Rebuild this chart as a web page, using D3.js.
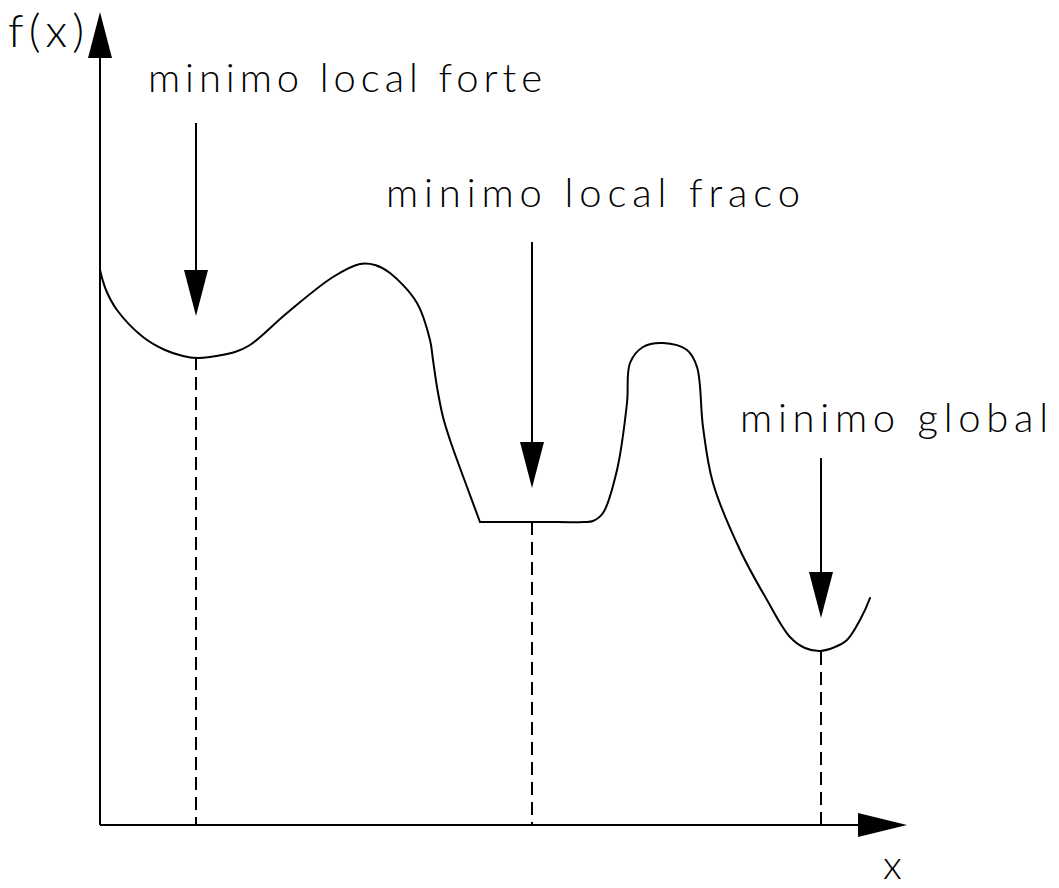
<!DOCTYPE html>
<html>
<head>
<meta charset="utf-8">
<script src="https://cdn.jsdelivr.net/npm/d3@7"></script>
<style>
  html, body { margin: 0; padding: 0; background: #fff; }
  svg { display: block; }
  text { font-family: "Lato", "Open Sans", "DejaVu Sans", sans-serif; font-weight: 300; fill: #000; }
</style>
</head>
<body>
<svg id="chart" width="1059" height="888"></svg>
<script>
// ---- data (in plot units: x 0..805, f(x) 0..800) ----
// left branch of f(x), ending at the sharp corner of the plateau
const curveAX = [0, 6, 17, 43, 65, 83, 97, 110, 135, 150, 187, 233, 260, 275, 290, 317, 330, 333, 337, 343, 350, 367, 380];
const curveAY = [555, 535, 515, 488, 475, 469, 467, 468, 473, 480, 512, 548, 561, 560, 552, 522, 485, 465, 438, 408, 385, 338, 303];
// right branch, starting at the plateau
const curveBX = [380, 440, 484, 493, 503, 517, 527, 530, 543, 563, 587, 597, 603, 613, 640, 667, 690, 705, 720, 735, 747, 760, 770];
const curveBY = [303, 303, 303, 304, 312, 355, 422, 462, 478, 482, 475, 458, 398, 342, 275, 225, 188, 177, 174, 178, 185, 205, 227];

const minimaLabels = ["minimo local forte", "minimo local fraco", "minimo global"];
const minimaX      = [96, 432, 721];        // location of each minimum
const minimaF      = [468, 303, 173];       // f(x) at each minimum
const arrowTop     = [702, 583, 367];       // arrow start (f units)
const arrowTip     = [509, 337, 207];       // arrow tip (f units)
const labelX       = [48, 286, 640];
const labelY       = [733, 618, 393];
const labelWidth   = [394, 414, 308];

const axisLabels = ["f(x)", "x"];

// ---- scales ----
const svg = d3.select("#chart");
const x = d3.scaleLinear().domain([0, 805]).range([100, 905]);
const y = d3.scaleLinear().domain([0, 800]).range([825, 25]);

const black = "#000";

// axes
svg.append("line")
  .attr("x1", x(0)).attr("y1", y(0)).attr("x2", x(0)).attr("y2", y(767))
  .attr("stroke", black).attr("stroke-width", 2);
svg.append("path")
  .attr("d", `M${x(0)},${y(813)} L${x(0) - 12},${y(767)} L${x(0) + 12},${y(767)} Z`)
  .attr("fill", black);
svg.append("line")
  .attr("x1", x(0)).attr("y1", y(0)).attr("x2", x(758)).attr("y2", y(0))
  .attr("stroke", black).attr("stroke-width", 2);
svg.append("path")
  .attr("d", `M${x(807)},${y(0)} L${x(758)},${y(0) - 12} L${x(758)},${y(0) + 12} Z`)
  .attr("fill", black);

// axis labels
svg.append("text").attr("x", 8).attr("y", 47).attr("font-size", 46)
  .attr("textLength", 76).attr("lengthAdjust", "spacing").text(axisLabels[0]);
svg.append("text").attr("x", 883).attr("y", 879).attr("font-size", 40).text(axisLabels[1]);

// curve
const line = d3.line().x(d => x(d[0])).y(d => y(d[1])).curve(d3.curveCatmullRom.alpha(0.5));
[[curveAX, curveAY], [curveBX, curveBY]].forEach(([cx, cy]) => {
  svg.append("path").datum(cx.map((d, i) => [d, cy[i]]))
    .attr("d", line)
    .attr("fill", "none").attr("stroke", black).attr("stroke-width", 2)
    .attr("stroke-linejoin", "round").attr("stroke-linecap", "round");
});

// dashed drop lines
svg.selectAll("line.drop").data(minimaX).enter().append("line")
  .attr("class", "drop")
  .attr("x1", d => x(d)).attr("x2", d => x(d))
  .attr("y1", (d, i) => y(minimaF[i])).attr("y2", y(0))
  .attr("stroke", black).attr("stroke-width", 2)
  .attr("stroke-dasharray", "13,7");

// arrows
minimaX.forEach((mx, i) => {
  const tx = x(mx), ty = y(arrowTip[i]);
  svg.append("line")
    .attr("x1", tx).attr("x2", tx)
    .attr("y1", y(arrowTop[i])).attr("y2", ty - 40)
    .attr("stroke", black).attr("stroke-width", 2);
  svg.append("path")
    .attr("d", `M${tx},${ty} L${tx - 12},${ty - 46} L${tx + 12},${ty - 46} Z`)
    .attr("fill", black);
});

// labels
svg.selectAll("text.lbl").data(minimaLabels).enter().append("text")
  .attr("class", "lbl")
  .attr("x", (d, i) => x(labelX[i]))
  .attr("y", (d, i) => y(labelY[i]))
  .attr("font-size", 40)
  .attr("textLength", (d, i) => labelWidth[i])
  .attr("lengthAdjust", "spacing")
  .text(d => d);
</script>
</body>
</html>
